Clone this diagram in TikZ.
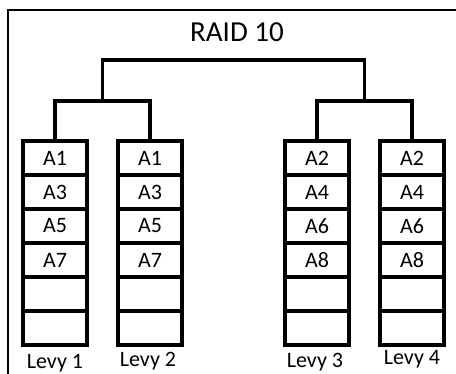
\documentclass[tikz,border=0pt]{standalone}
\usepackage{fontspec}
\setmainfont{Carlito}
\begin{document}
\begin{tikzpicture}[x=1pt,y=-1pt,
  cell/.style={draw, line width=4pt, minimum width=64pt, minimum height=34pt,
    inner sep=0pt, font=\fontsize{22}{22}\selectfont},
  link/.style={line width=3.5pt},
  disklabel/.style={font=\fontsize{22}{22}\selectfont},
  frame/.style={line width=1.5pt}]
\useasboundingbox (0,0) rectangle (456,374);
% outer frame (open to the right and bottom)
\draw[frame] (8,400) -- (8,10) -- (480,10);
\node[font=\fontsize{29}{29}\selectfont] (title) at (237,32) {RAID 10};

% disk columns: six stripes each
\foreach \n/\x/\a/\b/\c/\d in {1/55/A1/A3/A5/A7, 2/150/A1/A3/A5/A7,
                                 3/317/A2/A4/A6/A8, 4/412/A2/A4/A6/A8}{
  \node[cell] (c\n-1) at (\x,158) {\a};
  \node[cell] (c\n-2) at (\x,192) {\b};
  \node[cell] (c\n-3) at (\x,226) {\c};
  \node[cell] (c\n-4) at (\x,260) {\d};
  \node[cell] (c\n-5) at (\x,294) {};
  \node[cell] (c\n-6) at (\x,328) {};
}

% disk names
\node[disklabel] (l1) at (55,363) {Levy 1};
\node[disklabel] (l2) at (148,361) {Levy 2};
\node[disklabel] (l3) at (315,362) {Levy 3};
\node[disklabel] (l4) at (412,359) {Levy 4};

% RAID 1 mirrors joined by RAID 0 stripe
\coordinate (m1) at (102.5,101);
\coordinate (m2) at (364.5,101);
\coordinate (top) at (0,60);
\draw[link] (c1-1.north) |- (m1) -| (c2-1.north);
\draw[link] (c3-1.north) |- (m2) -| (c4-1.north);
\draw[link] (m1) -- (m1 |- top) -| (m2);
\end{tikzpicture}
\end{document}
